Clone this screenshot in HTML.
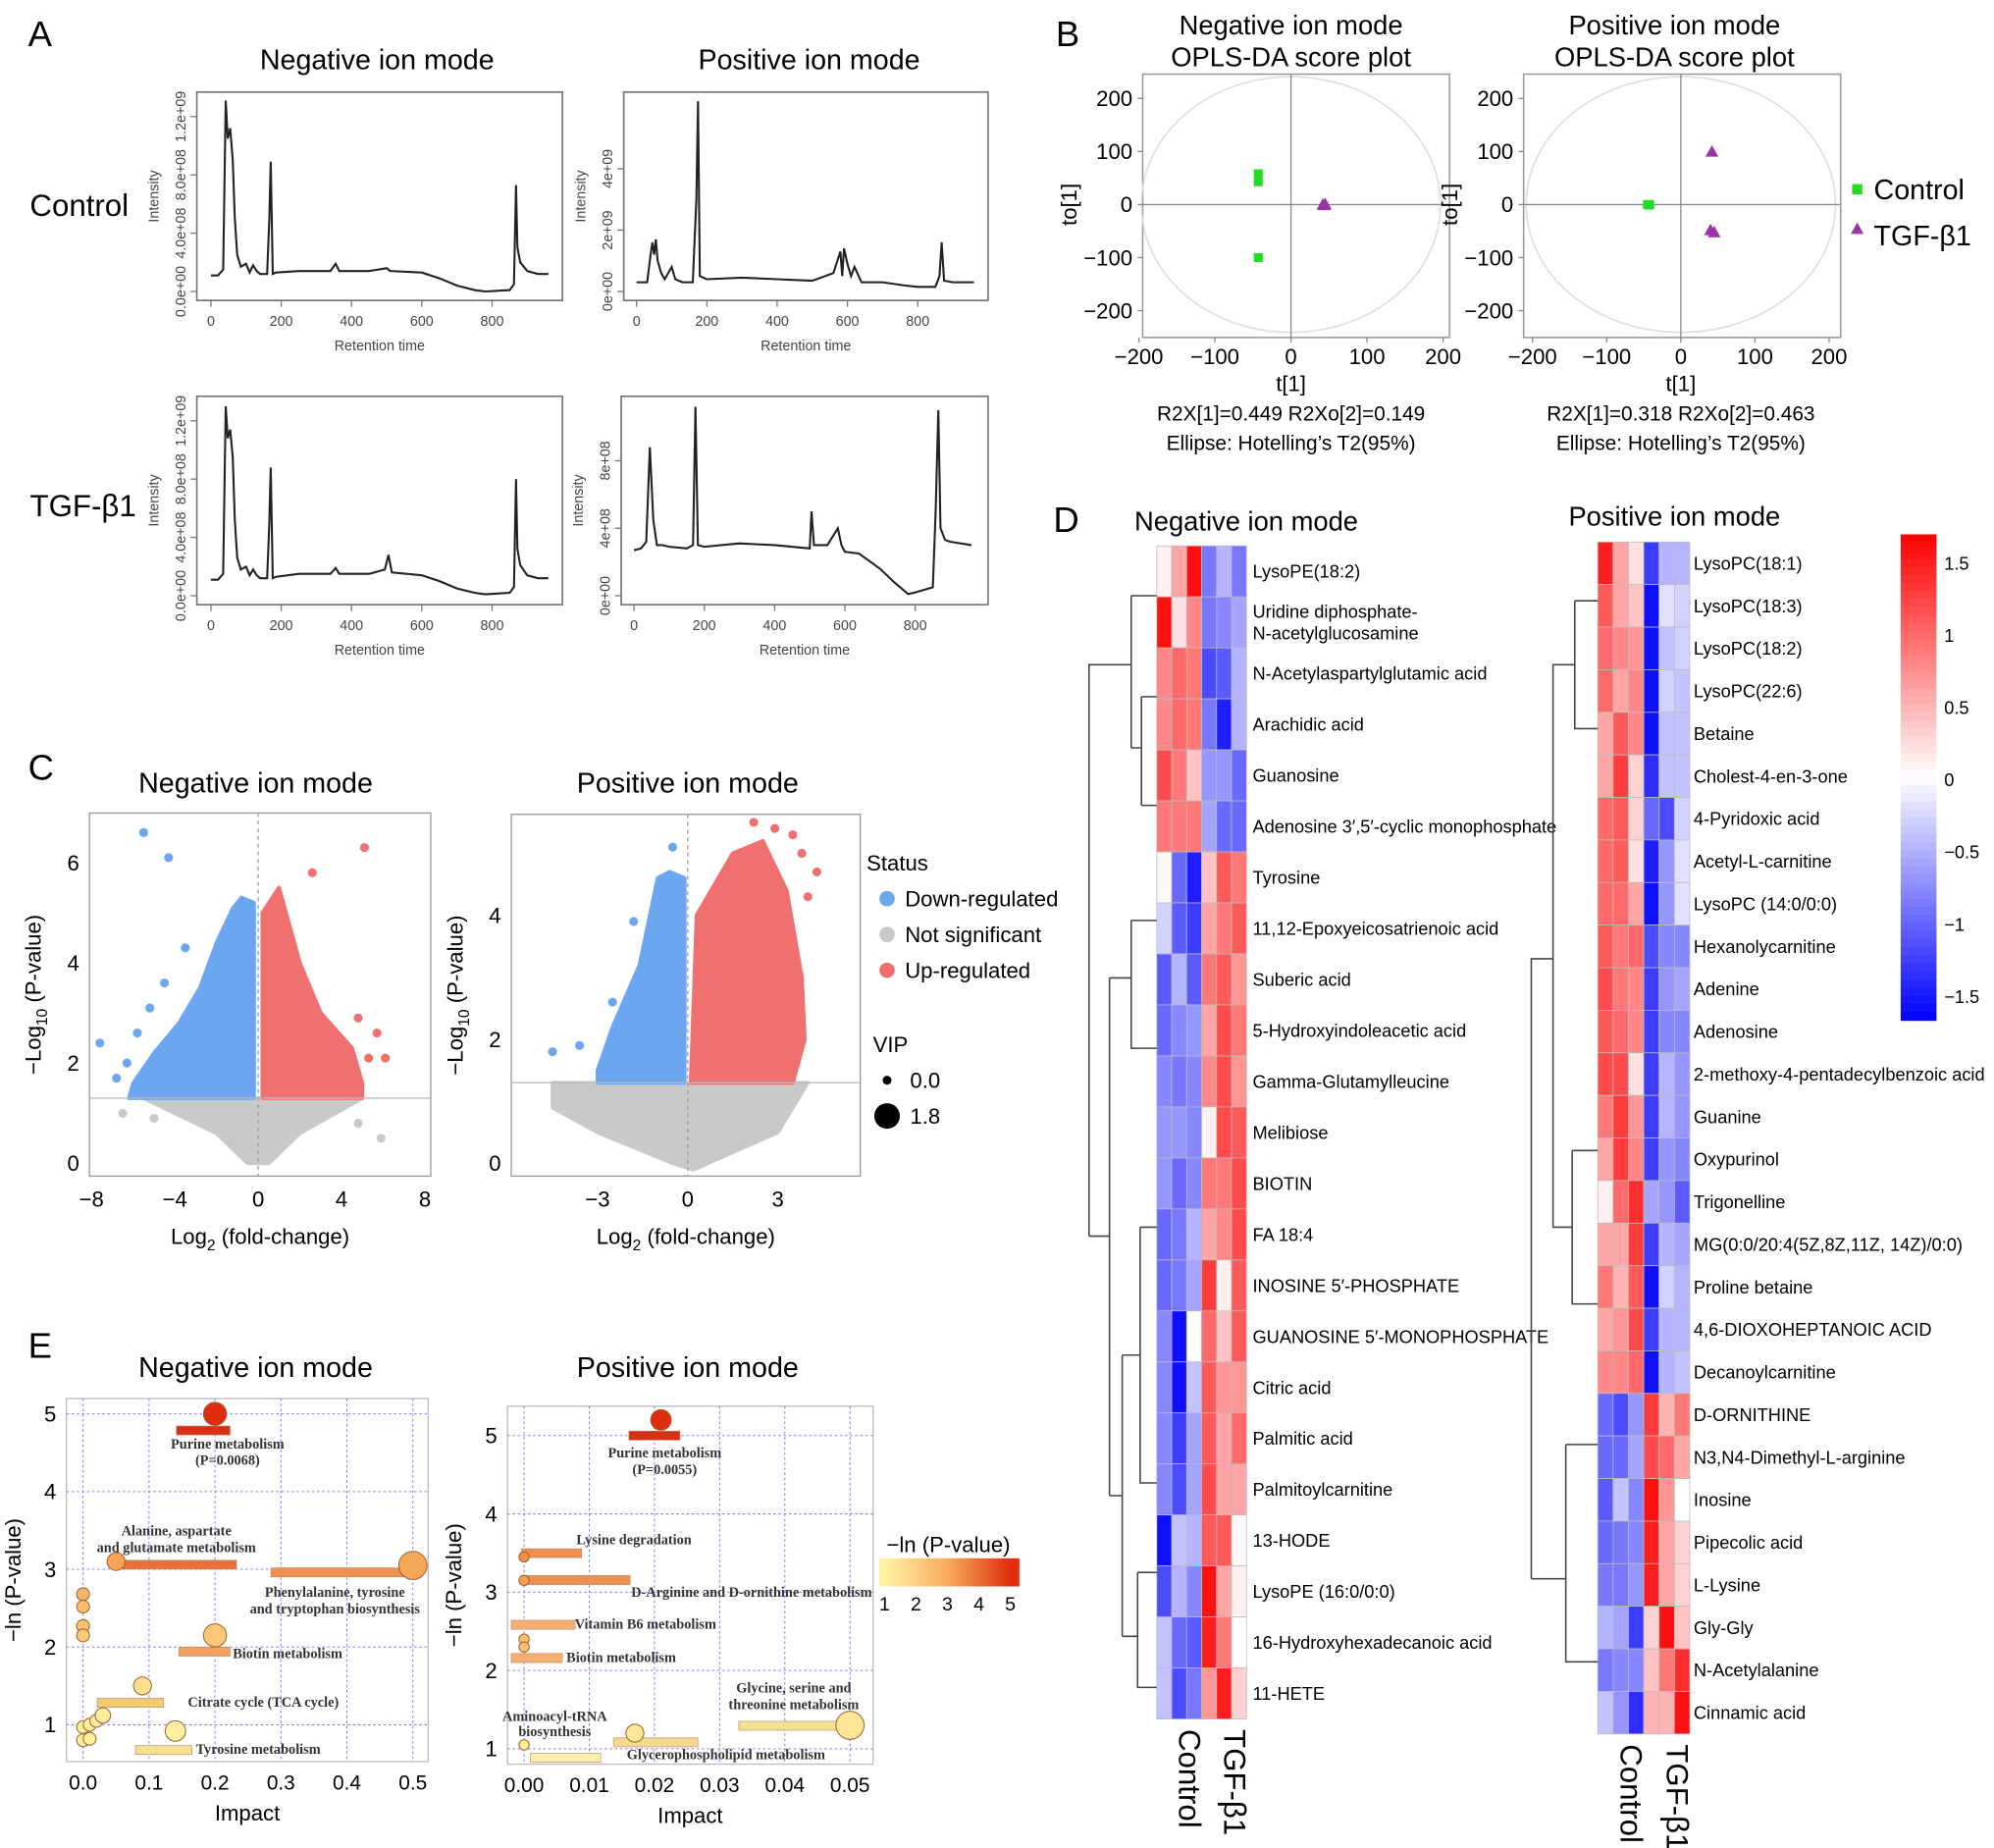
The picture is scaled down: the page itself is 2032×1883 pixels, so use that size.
<!DOCTYPE html>
<html><head><meta charset="utf-8"><style>
html,body{margin:0;padding:0;background:#fff;}
svg{display:block;font-family:"Liberation Sans",sans-serif;}
.serif{font-family:"Liberation Serif",serif;font-weight:bold;}
</style></head><body>
<svg id="fig" width="2032" height="1883" viewBox="0 0 1560 1445.6" xmlns="http://www.w3.org/2000/svg">
<rect x="0" y="0" width="1560" height="1446" fill="#fff"/>
<text x="22" y="36" font-size="28">A</text>
<text x="826" y="36" font-size="28">B</text>
<text x="22" y="610" font-size="28">C</text>
<text x="824" y="416" font-size="28">D</text>
<text x="22" y="1062" font-size="28">E</text>
<text x="295" y="54" font-size="22" text-anchor="middle">Negative ion mode</text>
<text x="633" y="54" font-size="22" text-anchor="middle">Positive ion mode</text>
<text x="62" y="169" font-size="24" text-anchor="middle">Control</text>
<text x="65" y="404" font-size="24" text-anchor="middle">TGF-β1</text>
<text x="1010" y="27" font-size="21" text-anchor="middle">Negative ion mode</text>
<text x="1010" y="52" font-size="21" text-anchor="middle">OPLS-DA score plot</text>
<text x="1310" y="27" font-size="21" text-anchor="middle">Positive ion mode</text>
<text x="1310" y="52" font-size="21" text-anchor="middle">OPLS-DA score plot</text>
<text x="1010" y="329" font-size="16" text-anchor="middle">R2X[1]=0.449 R2Xo[2]=0.149</text>
<text x="1010" y="352" font-size="16" text-anchor="middle">Ellipse: Hotelling’s T2(95%)</text>
<text x="1315" y="329" font-size="16" text-anchor="middle">R2X[1]=0.318 R2Xo[2]=0.463</text>
<text x="1315" y="352" font-size="16" text-anchor="middle">Ellipse: Hotelling’s T2(95%)</text>
<rect x="1449" y="144" width="8" height="8" fill="#22dd22"/>
<text x="1466" y="156" font-size="22">Control</text>
<polygon points="1453,174 1458,183 1448,183" fill="#9933aa"/>
<text x="1466" y="192" font-size="22">TGF-β1</text>
<text x="200" y="620" font-size="22" text-anchor="middle">Negative ion mode</text>
<text x="538" y="620" font-size="22" text-anchor="middle">Positive ion mode</text>
<text x="678" y="681" font-size="17">Status</text>
<circle cx="694" cy="703" r="6" fill="#6ca6f0"/>
<text x="708" y="709" font-size="17">Down-regulated</text>
<circle cx="694" cy="731" r="6" fill="#c8c8c8"/>
<text x="708" y="737" font-size="17">Not significant</text>
<circle cx="694" cy="759" r="6" fill="#f07070"/>
<text x="708" y="765" font-size="17">Up-regulated</text>
<text x="683" y="823" font-size="17">VIP</text>
<circle cx="694" cy="845" r="3.5" fill="#000"/>
<text x="712" y="851" font-size="17">0.0</text>
<circle cx="694" cy="873" r="10" fill="#000"/>
<text x="712" y="879" font-size="17">1.8</text>
<text x="975" y="415" font-size="21" text-anchor="middle">Negative ion mode</text>
<text x="1310" y="411" font-size="21" text-anchor="middle">Positive ion mode</text>
<text x="200" y="1077" font-size="22" text-anchor="middle">Negative ion mode</text>
<text x="538" y="1077" font-size="22" text-anchor="middle">Positive ion mode</text>
<g id="charts"></g>
</svg>
<script>
// ---------- DATA ----------
const chromNegCtrlT=[0,20,35,42,48,55,62,68,75,85,100,110,120,130,140,160,166,170,176,185,250,340,355,365,450,500,510,600,650,700,750,780,850,862,868,872,880,900,930,960];
const chromNegCtrlI=[1.1,1.1,1.5,13.1,10.5,11.2,9.0,5.0,2.5,1.7,1.9,1.3,1.8,1.4,1.2,1.2,5,8.9,1.2,1.3,1.4,1.4,1.9,1.4,1.4,1.6,1.4,1.3,0.9,0.4,0.1,0.0,0.1,0.5,7.3,3.0,2.0,1.4,1.2,1.2];
const chromNegTgfT=[0,20,35,42,48,55,62,68,75,85,100,110,120,130,140,160,166,170,176,185,250,340,355,365,450,495,505,515,600,650,700,750,780,850,862,868,872,880,900,930,960];
const chromNegTgfI=[1.1,1.1,1.5,13.0,10.8,11.4,9.5,5.2,2.6,1.8,2.0,1.4,1.8,1.4,1.2,1.2,5,8.8,1.2,1.3,1.5,1.5,1.9,1.5,1.5,1.8,2.8,1.6,1.4,1.0,0.5,0.2,0.1,0.2,0.6,8.0,3.2,2.1,1.4,1.2,1.2];
const chromPosCtrlT=[0,30,40,45,50,55,60,70,80,100,110,130,160,170,175,180,200,300,400,500,560,580,585,590,600,610,620,640,700,760,800,850,862,868,875,900,960];
const chromPosCtrlI=[0.3,0.3,1.2,1.6,1.2,1.7,1.0,0.6,0.4,0.8,0.4,0.3,0.3,3,6.2,0.5,0.4,0.45,0.4,0.35,0.6,1.3,0.5,1.4,0.9,0.5,0.8,0.3,0.3,0.2,0.15,0.15,0.5,1.6,0.35,0.3,0.3];
const chromPosTgfT=[0,20,35,40,45,55,65,80,100,150,168,175,182,200,300,400,500,505,512,550,580,590,600,640,700,740,780,800,850,858,866,872,885,900,960];
const chromPosTgfI=[2.7,2.8,3.2,6.0,8.8,4.5,3.0,3.0,2.9,2.8,3,11.2,3,2.9,3.1,3.0,2.8,5.0,3.0,3.0,4.0,3.0,2.6,2.5,1.6,0.8,0.1,0.2,0.5,5,11.0,4.0,3.3,3.2,3.0];

const oplsNegCtrlX=[-43,-43,-43], oplsNegCtrlY=[58,43,-100];
const oplsNegTgfX=[42,45,44], oplsNegTgfY=[0,1,-1];
const oplsPosCtrlX=[-45,-42,-43], oplsPosCtrlY=[0,0,-1];
const oplsPosTgfX=[42,40,45], oplsPosTgfY=[100,-48,-52];
const oplsTicks=[-200,-100,0,100,200];

const volNegDownX=[-0.2,-0.2,-0.8,-1.2,-2,-2.8,-3.8,-5,-6,-6.2];
const volNegDownY=[1.3,5.2,5.3,5.1,4.4,3.5,2.8,2.2,1.6,1.3];
const volNegUpX=[0.2,0.2,1,2,3,4.5,5,5];
const volNegUpY=[1.3,5.0,5.5,4.0,3.0,2.3,1.6,1.3];
const volNegNsX=[-5.5,5,2,0.5,-0.5,-2];
const volNegNsY=[1.3,1.3,0.6,0,0,0.6];
const volNegDownOutX=[-5.5,-4.3,-7.6,-6.8,-4.5,-3.5,-5.8,-6.3,-5.2];
const volNegDownOutY=[6.6,6.1,2.4,1.7,3.6,4.3,2.6,2.0,3.1];
const volNegUpOutX=[5.1,6.1,5.3,4.4,3.5,4.8,5.7,2.6];
const volNegUpOutY=[6.3,2.1,2.1,1.5,2.5,2.9,2.6,5.8];
const volNegNsOutX=[5.9,-6.5,-5,4.8];
const volNegNsOutY=[0.5,1.0,0.9,0.8];
const volPosDownX=[-0.1,-0.1,-0.6,-1,-1.6,-2.5,-3,-3];
const volPosDownY=[1.3,4.6,4.7,4.6,3.2,2.2,1.5,1.3];
const volPosUpX=[0.1,0.3,1.5,2.5,3.3,3.8,3.9,3.5];
const volPosUpY=[1.3,4.0,5.0,5.2,4.4,3.0,2.0,1.3];
const volPosNsX=[-4.5,4,3,0.2,-0.5,-3,-4.5];
const volPosNsY=[1.3,1.3,0.5,-0.1,0,0.5,0.9];
const volPosDownOutX=[-0.5,-4.5,-2.5,-3.6,-1.8];
const volPosDownOutY=[5.1,1.8,2.6,1.9,3.9];
const volPosUpOutX=[2.9,3.5,3.8,4,4.3,2.2,3.2];
const volPosUpOutY=[5.4,5.3,5.0,4.3,4.7,5.5,3.6];

const negMetabolites=["LysoPE(18:2)","Uridine diphosphate-|N-acetylglucosamine","N-Acetylaspartylglutamic acid","Arachidic acid","Guanosine","Adenosine 3′,5′-cyclic monophosphate","Tyrosine","11,12-Epoxyeicosatrienoic acid","Suberic acid","5-Hydroxyindoleacetic acid","Gamma-Glutamylleucine","Melibiose","BIOTIN","FA 18:4","INOSINE 5′-PHOSPHATE","GUANOSINE 5′-MONOPHOSPHATE","Citric acid","Palmitic acid","Palmitoylcarnitine","13-HODE","LysoPE (16:0/0:0)","16-Hydroxyhexadecanoic acid","11-HETE"];
const negValues=[
[0.1,0.6,1.6,-0.9,-0.5,-0.9],[1.6,0.2,0.8,-0.9,-0.8,-0.6],[0.8,1.0,0.9,-1.2,-1.1,-0.5],[0.8,1.0,0.9,-0.9,-1.5,-0.5],
[1.2,0.9,0.4,-0.7,-0.7,-1.0],[0.9,0.9,0.9,-0.6,-1.0,-1.0],[0.05,-1.0,-1.5,0.4,1.1,0.9],[-0.3,-1.1,-1.3,0.6,0.9,1.1],
[-1.1,-0.5,-1.1,0.9,1.1,0.7],[-1.0,-0.8,-0.7,0.6,1.2,0.9],[-0.8,-0.9,-0.8,0.8,1.2,0.7],[-0.7,-0.7,-0.8,0.1,1.2,1.1],
[-0.7,-1.0,-0.8,0.9,0.9,1.2],[-1.0,-0.9,-0.5,0.6,0.8,1.2],[-1.0,-0.9,-0.6,1.3,0.1,1.1],[-0.8,-1.6,0.0,1.0,0.4,1.1],
[-0.8,-1.6,-0.4,1.1,0.7,0.7],[-0.8,-1.3,-0.6,1.1,0.6,1.0],[-0.8,-1.2,-0.6,1.2,0.6,0.6],[-1.6,-0.4,-0.5,1.1,1.1,0.05],
[-1.2,-0.5,-0.8,1.6,0.6,0.1],[-0.4,-1.0,-1.1,1.5,0.9,0.0],[-0.4,-1.2,-0.9,0.7,1.5,0.3]];
const posMetabolites=["LysoPC(18:1)","LysoPC(18:3)","LysoPC(18:2)","LysoPC(22:6)","Betaine","Cholest-4-en-3-one","4-Pyridoxic acid","Acetyl-L-carnitine","LysoPC (14:0/0:0)","Hexanolycarnitine","Adenine","Adenosine","2-methoxy-4-pentadecylbenzoic acid","Guanine","Oxypurinol","Trigonelline","MG(0:0/20:4(5Z,8Z,11Z, 14Z)/0:0)","Proline betaine","4,6-DIOXOHEPTANOIC ACID","Decanoylcarnitine","D-ORNITHINE","N3,N4-Dimethyl-L-arginine","Inosine","Pipecolic acid","L-Lysine","Gly-Gly","N-Acetylalanine","Cinnamic acid"];
const posValues=[
[1.5,0.6,0.2,-1.3,-0.5,-0.5],[1.1,0.6,0.4,-1.6,-0.2,-0.3],[1.0,0.8,0.7,-1.6,-0.4,-0.3],[1.0,0.6,0.8,-1.6,-0.3,-0.4],
[0.6,1.1,0.8,-1.6,-0.4,-0.4],[0.6,1.3,0.3,-1.4,-0.4,-0.4],[1.0,1.1,0.3,-1.0,-1.2,-0.3],[1.0,1.1,0.2,-1.5,-0.7,-0.2],
[1.0,1.0,0.6,-1.6,-0.7,-0.2],[1.1,0.9,1.0,-1.2,-0.8,-0.8],[1.2,0.9,0.8,-1.3,-0.7,-0.6],[1.1,1.0,0.8,-1.3,-0.8,-0.8],
[1.2,1.2,0.2,-1.3,-0.5,-0.7],[0.9,1.3,0.7,-1.3,-0.5,-0.7],[0.6,1.3,0.8,-1.3,-0.7,-0.8],[0.1,1.0,1.4,-0.6,-0.7,-1.1],
[0.6,0.6,1.3,-1.3,-0.5,-0.6],[0.9,0.5,1.1,-1.6,-0.3,-0.5],[0.6,0.7,1.2,-1.3,-0.5,-0.5],[0.8,0.8,1.0,-1.6,-0.5,-0.4],
[-1.0,-1.2,-0.7,1.3,0.5,0.9],[-1.0,-1.0,-0.6,1.2,1.0,0.6],[-1.1,-0.4,-0.8,1.6,0.7,0.0],[-1.0,-0.9,-0.8,1.5,0.6,0.3],
[-0.9,-0.9,-0.7,1.5,0.6,0.3],[-0.5,-0.6,-1.3,0.3,1.6,0.4],[-0.9,-0.8,-0.8,0.4,0.9,1.4],[-0.4,-0.7,-1.4,0.5,0.5,1.6]];
const colorbarTicks=[1.5,1,0.5,0,-0.5,-1,-1.5];
const colorbarLabels=["1.5","1","0.5","0","−0.5","−1","−1.5"];

const pathNegImpact=[0.2,0.05,0.5,0.2,0.09,0.14,0,0,0,0,0,0.01,0.02,0.03,0,0.01];
const pathNegLnP=[5.0,3.1,3.05,2.15,1.5,0.92,2.68,2.52,2.27,2.15,0.97,1.0,1.05,1.12,0.8,0.82];
const pathNegSize=[9,7,11,9,7,8,5,5,5,5,5,5,5,6,5,5];
const pathPosImpact=[0.021,0,0,0,0,0.017,0.05,0];
const pathPosLnP=[5.2,3.45,3.15,2.4,2.3,1.2,1.3,1.05];
const pathPosSize=[8,4,4,4,4,7,11,4];

// ---------- DRAWING ----------
const NS='http://www.w3.org/2000/svg';
const root=document.getElementById('charts');
function mk(tag,attrs,parent){const e=document.createElementNS(NS,tag);for(const k in attrs)e.setAttribute(k,attrs[k]);(parent||root).appendChild(e);return e;}
function tx(x,y,s,size,anchor,parent,rot){const e=mk('text',{x:x,y:y,'font-size':size,'text-anchor':anchor||'middle'},parent);if(rot)e.setAttribute('transform','rotate('+rot+' '+x+' '+y+')');e.textContent=s;return e;}

function chrom(name,box,x0,x800,y0,yPer,ticks,labels,T,I){
  const g=mk('g',{});
  
  
  const sx=t=>x0+(x800-x0)*t/800, sy=v=>y0-v*yPer;
  const fr=mk('rect',{x:box[0],y:box[1],width:box[2]-box[0],height:box[3]-box[1],fill:'none',stroke:'#777','stroke-width':1.3},g);
  
  
  let d='';T.forEach((t,i)=>{d+=(i?'L':'M')+sx(t).toFixed(1)+','+sy(I[i]).toFixed(1);});
  const ln=mk('path',{d:d,fill:'none',stroke:'#222','stroke-width':1.6},g);
  
  
  [0,200,400,600,800].forEach(t=>{mk('line',{x1:sx(t),x2:sx(t),y1:box[3],y2:box[3]+5,stroke:'#777'},g);
    const l=tx(sx(t),box[3]+20,String(t),11,'middle',g);l.setAttribute('fill','#444');
    
    });
  ticks.forEach((v,i)=>{mk('line',{x1:box[0]-5,x2:box[0],y1:sy(v),y2:sy(v),stroke:'#777'},g);
    const l=tx(box[0]-9,sy(v),labels[i],11,'middle',g,-90);l.setAttribute('fill','#444');
    
    });
  const xt=tx((box[0]+box[2])/2,box[3]+39,'Retention time',11,'middle',g);xt.setAttribute('fill','#444');
  
  
  const yt=tx(box[0]-30,(box[1]+box[3])/2,'Intensity',11,'middle',g,-90);yt.setAttribute('fill','#444');
  
  
}
chrom('chrom-neg-control',[154,72,440,235],165,385,228,11.4,[0,4,8,12],['0.0e+00','4.0e+08','8.0e+08','1.2e+09'],chromNegCtrlT,chromNegCtrlI);
chrom('chrom-pos-control',[488,72,773,235],498,718,228,24,[0,2,4],['0e+00','2e+09','4e+09'],chromPosCtrlT,chromPosCtrlI);
chrom('chrom-neg-tgf',[154,310,440,473],165,385,466,11.4,[0,4,8,12],['0.0e+00','4.0e+08','8.0e+08','1.2e+09'],chromNegTgfT,chromNegTgfI);
chrom('chrom-pos-tgf',[486,310,773,473],496,716,466,13.2,[0,4,8],['0e+00','4e+08','8e+08'],chromPosTgfT,chromPosTgfI);

function opls(name,box,xc,xPer,yc,yPer,cx,cy,tx2,ty2){
  const g=mk('g',{});
  
  
  const sx=v=>xc+v*xPer/100, sy=v=>yc-v*yPer/100;
  mk('rect',{x:box[0],y:box[1],width:box[2]-box[0],height:box[3]-box[1],fill:'none',stroke:'#999','stroke-width':1.2},g);
  const el=mk('ellipse',{cx:xc,cy:yc,rx:(box[2]-box[0])/2-3,ry:(box[3]-box[1])/2-3,fill:'none',stroke:'#ddd','stroke-width':1.2},g);
  
  
  mk('line',{x1:box[0],x2:box[2],y1:yc,y2:yc,stroke:'#888'},g);
  mk('line',{x1:xc,x2:xc,y1:box[1],y2:box[3],stroke:'#888'},g);
  oplsTicks.forEach(v=>{mk('line',{x1:sx(v),x2:sx(v),y1:box[3],y2:box[3]+4,stroke:'#888'},g);
    const a=tx(sx(v),box[3]+21,v<0?'−'+(-v):String(v),17,'middle',g);
    
    
    mk('line',{x1:box[0]-4,x2:box[0],y1:sy(v),y2:sy(v),stroke:'#888'},g);
    const b=tx(box[0]-8,sy(v)+6,v<0?'−'+(-v):String(v),17,'end',g);
    
    });
  const xt=tx(xc,box[3]+42,'t[1]',17,'middle',g);
  
  
  const yt=tx(box[0]-52,yc,'to[1]',17,'middle',g,-90);
  
  
  cx.forEach((v,i)=>{const r=mk('rect',{x:sx(v)-3.5,y:sy(cy[i])-3.5,width:7,height:7,fill:'#22dd22'},g);
    
    });
  tx2.forEach((v,i)=>{const x=sx(v),y=sy(ty2[i]);const p=mk('polygon',{points:x+','+(y-5)+' '+(x+5)+','+(y+4)+' '+(x-5)+','+(y+4),fill:'#9933aa'},g);
    
    });
}
opls('opls-neg',[894,58,1134,264],1010,59.5,160,41.5,oplsNegCtrlX,oplsNegCtrlY,oplsNegTgfX,oplsNegTgfY);
opls('opls-pos',[1192,58,1440,264],1315,58,160,41.5,oplsPosCtrlX,oplsPosCtrlY,oplsPosTgfX,oplsPosTgfY);

function volcano(name,box,x0,xPer,y0,yPer,xt,yt,thr,env,outs){
  const g=mk('g',{});
  
  
  const sx=v=>x0+v*xPer, sy=v=>y0-v*yPer;
  mk('rect',{x:box[0],y:box[1],width:box[2]-box[0],height:box[3]-box[1],fill:'#fff',stroke:'#999'},g);
  env.forEach(e=>{const pts=e.x.map((v,i)=>sx(v).toFixed(1)+','+sy(e.y[i]).toFixed(1)).join(' ');
    const p=mk('polygon',{points:pts,fill:e.c,stroke:e.c,'stroke-width':3,'stroke-linejoin':'round'},g);
    
    });
  outs.forEach(o=>o.x.forEach((v,i)=>{const c=mk('circle',{cx:sx(v),cy:sy(o.y[i]),r:3.5,fill:o.c},g);
    
    }));
  mk('line',{x1:x0,x2:x0,y1:box[1],y2:box[3],stroke:'#99a',"stroke-dasharray":'3,3'},g);
  mk('line',{x1:box[0],x2:box[2],y1:sy(thr),y2:sy(thr),stroke:'#bbb'},g);
  xt.forEach(v=>{const a=tx(sx(v),box[3]+24,v<0?'−'+(-v):String(v),17,'middle',g);
    
    });
  yt.forEach(v=>{const a=tx(box[0]-8,sy(v)+6,String(v),17,'end',g);
    
    });
  const xl=mk('text',{x:(box[0]+box[2])/2,y:box[3]+53,'font-size':17,'text-anchor':'middle'},g);
  xl.innerHTML='Log<tspan font-size="12" dy="5">2</tspan><tspan dy="-5"> (fold-change)</tspan>';
  
  
  const cx=box[0]-38, cy=(box[1]+box[3])/2;
  const yl=mk('text',{x:cx,y:cy,'font-size':17,'text-anchor':'middle',transform:'rotate(-90 '+cx+' '+cy+')'},g);
  yl.innerHTML='−Log<tspan font-size="12" dy="5">10</tspan><tspan dy="-5"> (P-value)</tspan>';
  
  
}
volcano('volcano-neg',[70,636,337,920],202,16.3,910,39.2,[-8,-4,0,4,8],[0,2,4,6],1.3,
 [{x:volNegNsX,y:volNegNsY,c:'#c9c9c9',n:'not-significant-cloud'},{x:volNegDownX,y:volNegDownY,c:'#6ca6f0',n:'down-regulated-cloud'},{x:volNegUpX,y:volNegUpY,c:'#f07070',n:'up-regulated-cloud'}],
 [{x:volNegDownOutX,y:volNegDownOutY,c:'#6ca6f0',n:'down-point'},{x:volNegUpOutX,y:volNegUpOutY,c:'#f07070',n:'up-point'},{x:volNegNsOutX,y:volNegNsOutY,c:'#c9c9c9',n:'ns-point'}]);
volcano('volcano-pos',[400,637,673,920],538,23.5,910,48.5,[-3,0,3],[0,2,4],1.3,
 [{x:volPosNsX,y:volPosNsY,c:'#c9c9c9',n:'not-significant-cloud'},{x:volPosDownX,y:volPosDownY,c:'#6ca6f0',n:'down-regulated-cloud'},{x:volPosUpX,y:volPosUpY,c:'#f07070',n:'up-regulated-cloud'}],
 [{x:volPosDownOutX,y:volPosDownOutY,c:'#6ca6f0',n:'down-point'},{x:volPosUpOutX,y:volPosUpOutY,c:'#f07070',n:'up-point'}]);

function heatColor(v){let t=Math.min(1,Math.abs(v)/1.7);const w=Math.round(255*(1-t));return v>=0?'rgb(255,'+w+','+w+')':'rgb('+w+','+w+',255)';}
function heatmap(name,x,y,cw,rh,vals,labels,lx){
  const g=mk('g',{});
  
  
  vals.forEach((row,i)=>{row.forEach((v,j)=>{const r=mk('rect',{x:x+j*cw,y:y+i*rh,width:cw,height:rh,fill:heatColor(v),stroke:'#bbb','stroke-width':0.6},g);
      
      });
    const parts=labels[i].split('|');
    parts.forEach((p,k)=>{const t=tx(lx,y+i*rh+rh/2+5+(k-(parts.length-1)/2)*17,p,14,'start',g);
      
      });
  });
  const bx=x+cw*1.5, by=y+rh*vals.length+8;
  const c1=tx(bx,by,'Control',24,'start',g,90);
  
  
  const c2=tx(x+cw*4.5,by,'TGF-β1',24,'start',g,90);
  
  
}
heatmap('heatmap-neg',905,427,11.7,39.9,negValues,negMetabolites,980);
heatmap('heatmap-pos',1250,424,12,33.3,posValues,posMetabolites,1325);
const dn=mk('path',{d:'M852,967V520H885M852,967H868M885,466V585M885,466H905M885,585H893M893,545V630M893,545H905M893,630H905M868,765V1170M868,765H885M885,720V820H905M885,720H905M868,1170H878M878,1060V1280M878,1060H892M892,960V1160H905M892,960H905M878,1280H890M890,1230V1320H905M890,1230H905',fill:'none',stroke:'#444','stroke-width':1.2});


const dp=mk('path',{d:'M1198,1235V750H1215M1198,1235H1225M1215,750V520H1232M1215,750V960H1230M1232,470V570H1250M1232,470H1250M1230,900V1020H1250M1230,900H1250M1225,1130V1300H1250M1225,1130H1250',fill:'none',stroke:'#444','stroke-width':1.2});


(function(){const g=mk('g',{});
  
  
  const top=418,bot=798,x=1487,w=28;const n=60;
  for(let i=0;i<n;i++){const v=1.7-3.4*(i+0.5)/n;mk('rect',{x:x,y:top+(bot-top)*i/n,width:w,height:(bot-top)/n+0.6,fill:heatColor(v)},g);}
  const sy=v=>610-v*113;
  colorbarTicks.forEach((v,i)=>{const t=tx(x+w+6,sy(v)+5,colorbarLabels[i],14,'start',g);
    
    });
})();

function bubbleColor(c){const t=Math.max(0,Math.min(1,(c-1)/4));const a=[255,240,160],m=[248,170,90],b=[224,45,15];let r;
  if(t<0.5){const u=t*2;r=a.map((v,i)=>v+(m[i]-v)*u);}else{const u=(t-0.5)*2;r=m.map((v,i)=>v+(b[i]-v)*u);}return 'rgb('+r.map(Math.round).join(',')+')';}
function bubbles(name,box,x0,xPer,y0,yPer,xticks,xlabels,yticks,X,Y,S,notes){
  const g=mk('g',{});
  
  
  const sx=v=>x0+v*xPer, sy=v=>y0-(v-5)*yPer;
  mk('rect',{x:box[0],y:box[1],width:box[2]-box[0],height:box[3]-box[1],fill:'#fff',stroke:'#bbb'},g);
  xticks.forEach((v,i)=>{mk('line',{x1:sx(v),x2:sx(v),y1:box[1],y2:box[3],stroke:'#8080ff','stroke-dasharray':'2,2','stroke-width':0.8},g);
    const t=tx(sx(v),box[3]+22,xlabels[i],16,'middle',g);
    
    });
  yticks.forEach(v=>{mk('line',{x1:box[0],x2:box[2],y1:sy(v),y2:sy(v),stroke:'#8080ff','stroke-dasharray':'2,2','stroke-width':0.8},g);
    const t=tx(box[0]-8,sy(v)+6,String(v),17,'end',g);
    
    });
  notes.forEach(n=>{const r=mk('rect',{x:n[0],y:n[1]-3.5,width:n[2]-n[0],height:7,fill:n[3],stroke:'#b86','stroke-width':0.5},g);
    
    });
  X.forEach((v,i)=>{const c=mk('circle',{cx:sx(v),cy:sy(Y[i]),r:S[i],fill:bubbleColor(Y[i]),stroke:'#a06030','stroke-width':0.8},g);
    
    });
  const xt=tx((box[0]+box[2])/2,box[3]+46,'Impact',17,'middle',g);
  
  
  const yt=tx(box[0]-36,(box[1]+box[3])/2,'−ln (P-value)',17,'middle',g,-90);
  
  
  return g;
}
const ge1=bubbles('pathway-neg',[52,1094,335,1378],65,516,1106,60.8,[0,0.1,0.2,0.3,0.4,0.5],['0.0','0.1','0.2','0.3','0.4','0.5'],[1,2,3,4,5],pathNegImpact,pathNegLnP,pathNegSize,
 [[138,1119,180,'#d83018'],[90,1224,185,'#e8703a'],[212,1230,320,'#f09050'],[140,1292,180,'#f3a060'],[76,1332,128,'#f0cc70'],[106,1369,150,'#f3e090']]);
const ge2=bubbles('pathway-pos',[397,1100,683,1380],410,5100,1123,61.25,[0,0.01,0.02,0.03,0.04,0.05],['0.00','0.01','0.02','0.03','0.04','0.05'],[1,2,3,4,5],pathPosImpact,pathPosLnP,pathPosSize,
 [[492,1123,532,'#d83018'],[408,1215,455,'#f09050'],[410,1236,493,'#f09050'],[400,1271,450,'#f3b070'],[400,1297,440,'#f3b070'],[578,1350,665,'#f3e090'],[480,1363,546,'#f3d890'],[415,1375,470,'#f8f0b0']]);
const eLabels=[
 [178,1133,'Purine metabolism'],[178,1146,'(P=0.0068)'],[138,1201,'Alanine, aspartate'],[138,1214,'and glutamate metabolism'],
 [262,1249,'Phenylalanine, tyrosine'],[262,1262,'and tryptophan biosynthesis'],[225,1297,'Biotin metabolism'],[206,1335,'Citrate cycle (TCA cycle)'],[202,1372,'Tyrosine metabolism'],
 [520,1140,'Purine metabolism'],[520,1153,'(P=0.0055)'],[496,1208,'Lysine degradation'],[588,1249,'D-Arginine and D-ornithine metabolism'],[505,1274,'Vitamin B6 metabolism'],[486,1300,'Biotin metabolism'],
 [621,1324,'Glycine, serine and'],[621,1337,'threonine metabolism'],[434,1346,'Aminoacyl-tRNA'],[434,1358,'biosynthesis'],[568,1376,'Glycerophospholipid metabolism']];
eLabels.forEach(l=>{const t=tx(l[0],l[1],l[2],11,'middle',l[0]>380?ge2:ge1);t.setAttribute('class','serif');t.setAttribute('fill','#333');
  
  });
(function(){const g=mk('g',{});
  
  
  const t=tx(742,1214,'−ln (P-value)',17,'middle',g);
  
  
  for(let i=0;i<40;i++){mk('rect',{x:688+i*109/40,y:1219,width:109/40+0.5,height:22,fill:bubbleColor(0.8+4.4*i/39)},g);}
  [1,2,3,4,5].forEach(v=>{const a=tx(692+(v-1)*24.6,1260,String(v),15,'middle',g);
    
    });
})();
</script>
</body></html>
